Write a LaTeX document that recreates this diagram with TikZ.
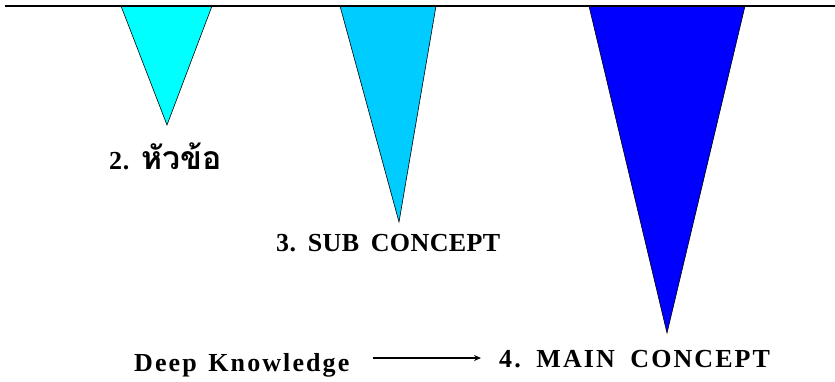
\documentclass[tikz,border=0pt]{standalone}
\usepackage{fontspec}
\setmainfont{Liberation Serif}[LetterSpace=3]
\newfontfamily\thaifont[Script=Thai]{Loma}
\usetikzlibrary{arrows.meta}
\newcommand{\wsp}{\hspace{0.45em}}
\begin{document}
\begin{tikzpicture}[x=1pt,y=-1pt,
  tri/.style={draw=black, line width=0.6pt, line join=miter},
  lbl/.style={font=\bfseries\fontsize{26}{30}\selectfont, inner sep=0pt, anchor=base west}]
\useasboundingbox (0,0) rectangle (835,381);
\fill[white] (0,0) rectangle (835,381);
\draw[tri, fill={rgb,255:red,0;green,255;blue,255}] (121,6) -- (167,125) -- (212,6) -- cycle;
\draw[tri, fill={rgb,255:red,0;green,204;blue,255}] (340,6) -- (399,222) -- (436,6) -- cycle;
\draw[tri, fill={rgb,255:red,0;green,0;blue,255}] (589,6) -- (667,333) -- (745,6) -- cycle;
\draw[line width=2pt] (5,6) -- (835,6);
\node[lbl] (t2) at (109,169) {2.\wsp{\thaifont\fontsize{32}{36}\selectfont หัวข้อ}};
\node[lbl] (t3) at (276,251) {\addfontfeatures{LetterSpace=1.5}3.\wsp SUB\wsp CONCEPT};
\node[lbl] (dk) at (134,371) {\addfontfeatures{LetterSpace=8}Deep\wsp Knowledge};
\node[lbl] (t4) at (499,367) {\addfontfeatures{LetterSpace=8}4.\hspace{0.6em}MAIN\hspace{0.6em}CONCEPT};
\coordinate (a1) at (373,358);
\coordinate (a2) at (481,358);
\draw[line width=1.6pt, -{Stealth[length=7pt,width=6pt]}] (a1) -- (a2);
\end{tikzpicture}
\end{document}
